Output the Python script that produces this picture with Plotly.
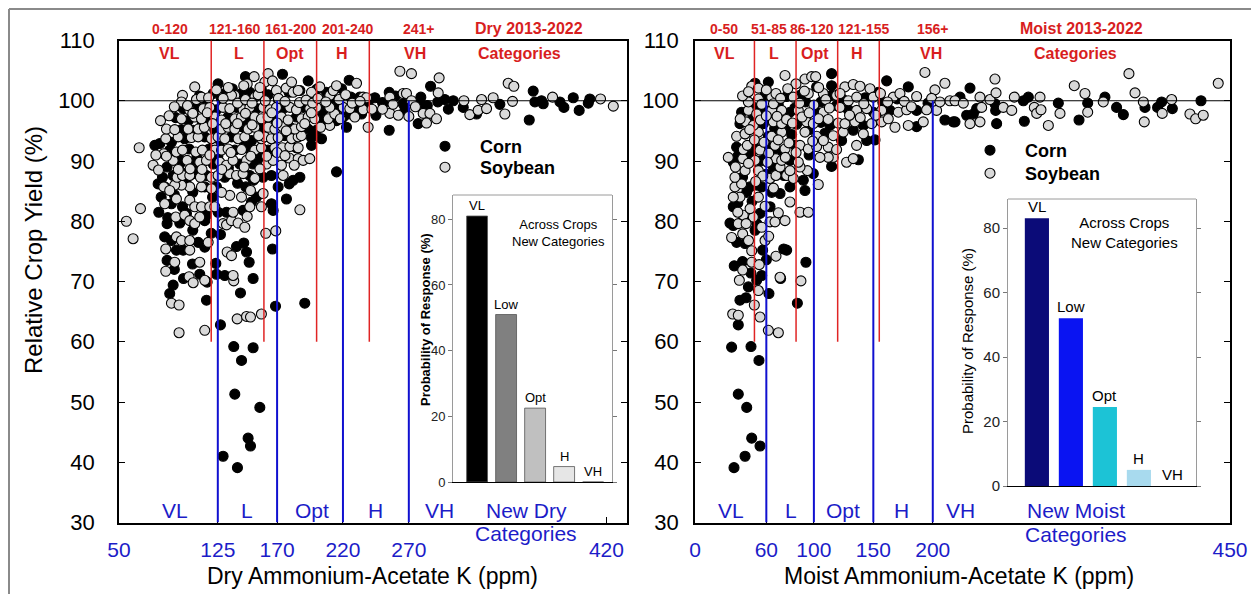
import plotly.graph_objects as go

OFF = 8                      # page margin of the browser around the figure
W, H = 1259 - OFF, 594 - OFF
FONT = "Liberation Sans, Arial, Helvetica, sans-serif"
RED = "#d81e1e"
BLUE = "#1c1cc8"

# ---------------- data ----------------
dry_corn = [
    (77.2, 92.6), (80.2, 81.5), (86.5, 73.5), (91.1, 69.4), (116.4, 66.9), (125.2, 102.8), (127.0, 62.8),
    (137.1, 59.2), (143.0, 56.9), (151.8, 59.0), (137.9, 51.3), (156.9, 49.1), (148.0, 44.0), (149.8, 42.7),
    (129.0, 41.0), (139.9, 39.1), (168.8, 65.9), (191.0, 66.4), (215.1, 88.2), (166.5, 75.4), (142.2, 68.1),
    (151.8, 70.5), (148.8, 73.2), (146.8, 74.9), (144.7, 76.4), (139.2, 75.8), (123.5, 73.0), (124.0, 71.2),
    (130.3, 71.0), (116.9, 69.9), (111.3, 71.2), (105.8, 72.9), (88.5, 68.0), (93.6, 75.2), (98.7, 75.2),
    (84.7, 77.4), (89.8, 76.8), (110.1, 76.5), (115.1, 75.7), (86.5, 79.6), (96.1, 79.7), (115.1, 80.1),
    (89.8, 82.9), (98.2, 82.4), (101.2, 81.3), (116.4, 81.0), (125.2, 81.5), (144.2, 81.8), (131.6, 81.5),
    (150.6, 83.2), (154.4, 84.0), (165.7, 82.9), (167.0, 81.8), (170.8, 85.7), (177.1, 83.7), (179.2, 86.2),
    (182.2, 86.8), (187.3, 87.3), (124.0, 85.7), (146.3, 85.7), (115.1, 85.7), (101.2, 86.2), (84.7, 85.7),
    (79.7, 86.2), (83.0, 87.3), (91.1, 87.6), (99.4, 87.9), (108.3, 87.9), (116.4, 87.6), (130.3, 87.3),
    (149.3, 87.6), (159.4, 87.3), (165.7, 87.6), (86.5, 89.0), (96.1, 89.5), (106.3, 89.5), (121.5, 89.5),
    (141.7, 89.5), (151.8, 89.5), (156.9, 89.8), (88.5, 91.8), (103.2, 92.0), (118.4, 92.0), (137.9, 91.8),
    (148.0, 92.2), (163.2, 91.8), (184.7, 92.2), (196.1, 92.6), (81.0, 92.9), (89.8, 93.1), (99.9, 93.7),
    (115.1, 94.0), (135.4, 94.0), (150.6, 93.4), (175.9, 94.2), (196.1, 93.9), (199.9, 95.1), (203.7, 93.7),
    (97.4, 95.2), (106.3, 95.1), (122.7, 95.1), (143.0, 95.7), (156.9, 95.3), (179.7, 95.6), (193.6, 95.3),
    (205.0, 96.2), (215.1, 96.7), (222.7, 95.6), (102.5, 96.7), (117.7, 96.7), (132.8, 97.3), (148.0, 96.8),
    (168.3, 97.0), (184.7, 97.3), (203.7, 97.3), (220.2, 97.3), (224.0, 97.8), (234.1, 97.8), (98.7, 98.7),
    (108.8, 98.9), (124.0, 98.5), (139.2, 98.9), (154.4, 98.7), (174.6, 98.7), (189.8, 98.9), (205.0, 98.5),
    (215.1, 98.7), (230.3, 98.9), (121.5, 101.2), (127.8, 100.3), (131.6, 101.4), (143.0, 101.2),
    (149.3, 101.4), (174.1, 104.4), (193.6, 103.3), (207.5, 101.4), (218.9, 102.0), (224.7, 103.4),
    (187.3, 101.7), (163.2, 101.0), (232.8, 100.6), (244.2, 100.5), (245.0, 97.6), (255.1, 95.1),
    (255.1, 101.4), (255.6, 99.8), (265.7, 99.5), (267.0, 98.4), (279.1, 100.6), (279.1, 99.5), (277.1, 96.2),
    (286.5, 102.4), (297.3, 100.2), (303.7, 100.0), (311.3, 98.9), (321.4, 97.8), (339.1, 99.4),
    (361.4, 96.8), (364.4, 101.6), (365.7, 99.8), (370.7, 100.0), (372.0, 99.5), (384.7, 99.8),
    (387.7, 98.9), (394.8, 100.5), (399.3, 98.4), (406.2, 99.6), (407.4, 100.3),
    (111.0, 100.8), (116.0, 99.5), (136.0, 102.0), (146.0, 104.0), (158.0, 101.9), (171.0, 100.2),
    (179.0, 101.4), (195.0, 99.9), (200.0, 101.9), (212.0, 100.3), (226.0, 100.6), (239.0, 99.5),
    (250.0, 99.7), (260.0, 100.8), (284.0, 99.2), (292.0, 99.8), (300.0, 98.6), (93.0, 97.2), (113.0, 96.0),
    (127.0, 93.3), (145.0, 92.4), (160.0, 96.4), (183.0, 95.0), (95.0, 90.8), (109.0, 90.5), (125.0, 90.8),
    (133.0, 88.9), (155.0, 91.0), (82.0, 84.0), (92.0, 84.4), (106.0, 84.8), (121.0, 84.0), (140.0, 86.3),
    (152.0, 86.8), (87.0, 80.6), (106.0, 78.5), (120.0, 78.0), (92.0, 72.0), (99.0, 70.5), (127.0, 77.8),
]

dry_soy = [
    (55.6, 80.0), (60.7, 77.1), (65.3, 92.2), (66.3, 82.1), (75.9, 89.3), (81.5, 96.7), (107.5, 102.3),
    (98.2, 100.9), (95.6, 61.5), (115.1, 61.9), (89.8, 66.4), (95.6, 66.1), (92.3, 73.2), (139.7, 63.8),
    (146.8, 64.2), (149.8, 64.1), (158.1, 64.6), (187.3, 81.9), (169.0, 78.4), (161.4, 78.0), (132.1, 74.9),
    (135.4, 74.3), (137.1, 70.1), (136.6, 71.0), (115.1, 70.2), (103.2, 70.8), (106.3, 69.8), (111.3, 73.2),
    (85.5, 71.7), (85.5, 75.4), (103.7, 75.2), (93.6, 77.4), (97.4, 76.8), (103.7, 76.8), (117.7, 76.5),
    (93.1, 80.7), (99.9, 81.0), (103.7, 80.1), (107.5, 79.6), (111.3, 80.7), (84.7, 82.9), (93.6, 83.7),
    (103.7, 83.5), (107.5, 82.4), (112.6, 82.4), (118.9, 82.4), (122.7, 82.4), (129.0, 79.6), (131.6, 79.4),
    (135.4, 80.1), (140.4, 79.7), (145.5, 79.0), (147.3, 80.8), (136.6, 81.5), (149.3, 82.4), (158.1, 82.4),
    (159.4, 84.6), (149.8, 85.1), (143.0, 84.0), (134.1, 84.3), (127.8, 84.8), (120.2, 85.4), (112.6, 85.7),
    (103.7, 85.7), (97.4, 86.0), (92.3, 86.0), (84.0, 85.7), (88.5, 85.1), (94.1, 87.3), (98.2, 87.6),
    (103.7, 87.6), (111.8, 87.3), (120.2, 87.3), (125.2, 87.6), (134.1, 87.9), (139.2, 87.6), (144.2, 87.9),
    (153.1, 87.1), (174.6, 87.6), (91.1, 90.1), (101.7, 90.1), (111.3, 89.8), (116.4, 90.1), (126.5, 89.8),
    (131.6, 89.3), (136.6, 90.1), (146.8, 90.1), (161.9, 89.5), (167.0, 90.1), (173.3, 89.3), (179.2, 90.5),
    (186.0, 90.4), (189.8, 90.1), (194.8, 90.4), (84.0, 91.2), (93.6, 91.5), (98.2, 91.8), (108.3, 91.5),
    (113.3, 91.8), (122.7, 91.8), (127.8, 91.8), (132.8, 92.0), (143.0, 91.9), (153.1, 91.8), (158.1, 92.2),
    (168.3, 92.2), (174.1, 92.2), (179.7, 92.4), (186.0, 92.2), (85.5, 93.7), (94.9, 94.0), (104.9, 93.9),
    (110.1, 94.0), (120.2, 93.7), (125.2, 94.0), (130.3, 93.7), (140.4, 93.7), (145.5, 94.0), (158.1, 93.7),
    (160.7, 94.0), (165.7, 93.7), (170.8, 93.9), (181.0, 93.7), (186.0, 94.0), (188.5, 94.2), (86.0, 95.3),
    (92.3, 95.2), (102.5, 95.3), (110.1, 95.3), (114.8, 95.6), (127.8, 95.3), (132.8, 95.6), (137.9, 95.3),
    (148.0, 95.3), (153.1, 95.6), (163.2, 95.6), (168.3, 95.3), (174.1, 95.7), (183.5, 95.3), (188.5, 95.7),
    (210.0, 95.9), (97.4, 97.0), (107.5, 97.3), (112.6, 97.0), (122.7, 97.3), (127.8, 96.8), (137.9, 97.0),
    (143.0, 97.3), (153.1, 97.3), (158.1, 97.0), (163.2, 97.3), (173.3, 97.3), (178.4, 96.8), (188.5, 97.0),
    (193.6, 97.3), (198.6, 97.0), (208.8, 97.0), (213.8, 97.8), (229.0, 97.3), (103.7, 98.4), (113.9, 98.7),
    (118.9, 98.9), (129.0, 98.9), (134.1, 98.7), (144.2, 98.5), (149.3, 98.9), (159.4, 98.9), (164.5, 98.5),
    (169.5, 98.9), (179.7, 98.9), (184.7, 98.5), (194.8, 98.7), (199.9, 98.9), (210.0, 98.9), (220.2, 98.9),
    (225.2, 98.7), (235.3, 98.5), (97.4, 99.8), (108.8, 100.2), (112.6, 100.6), (137.9, 100.9),
    (153.1, 100.6), (147.3, 102.8), (152.6, 104.0), (160.7, 103.1), (163.2, 104.5), (166.5, 103.3),
    (169.5, 101.7), (176.9, 102.1), (182.2, 101.4), (186.0, 101.7), (196.1, 101.4), (202.4, 102.3),
    (210.0, 100.9), (212.6, 101.7), (215.1, 102.5), (230.3, 102.9), (235.3, 100.6), (144.7, 102.5),
    (135.4, 100.9), (155.6, 101.0), (237.9, 100.5), (239.1, 95.6), (255.6, 100.6), (255.6, 97.9),
    (263.2, 104.9), (272.0, 104.5), (265.7, 101.2), (268.2, 101.2), (272.0, 100.0), (280.9, 97.9),
    (286.0, 97.9), (283.4, 96.3), (291.0, 97.0), (293.0, 103.8), (292.3, 101.3), (311.8, 100.0),
    (316.3, 97.7), (322.6, 98.4), (325.2, 100.2), (329.0, 98.7), (334.0, 100.5), (342.9, 97.8),
    (348.7, 99.9), (345.4, 102.9), (349.7, 102.4), (379.1, 100.6), (415.5, 100.3), (425.2, 99.1),
    (118.0, 100.5), (124.0, 101.8), (129.0, 100.4), (133.0, 102.2), (140.0, 99.6), (146.0, 100.2),
    (151.0, 99.6), (157.0, 102.2), (161.0, 100.0), (166.0, 98.0), (171.0, 100.4), (176.0, 99.9),
    (181.0, 103.1), (187.0, 99.7), (192.0, 100.1), (197.0, 99.6), (201.0, 100.4), (207.0, 99.8),
    (217.0, 100.2), (222.0, 101.0), (227.0, 99.6), (233.0, 99.9), (242.0, 98.6), (250.0, 98.6),
    (258.0, 99.4), (262.0, 97.6), (270.0, 97.4), (275.0, 99.0), (88.0, 97.5), (92.0, 99.0), (102.0, 99.2),
    (106.0, 97.9), (117.0, 98.0), (121.0, 96.2), (131.0, 96.2), (140.0, 96.2), (146.0, 97.9), (151.0, 96.0),
    (156.0, 94.2), (170.0, 96.3), (177.0, 95.0), (191.0, 96.2), (196.0, 98.0), (203.0, 95.6), (218.0, 97.0),
    (78.0, 91.0), (80.0, 88.5), (86.0, 90.8), (95.0, 88.6), (104.0, 88.7), (113.0, 88.6), (119.0, 91.0),
    (128.0, 88.6), (135.0, 91.4), (145.0, 89.0), (150.0, 90.8), (157.0, 88.7), (162.0, 90.8), (170.0, 91.4),
    (176.0, 90.9), (183.0, 89.3),
]

moist_corn = [
    (30.8, 59.1), (36.4, 51.3), (43.5, 49.1), (47.7, 44.0), (54.7, 42.7), (42.1, 41.0), (32.8, 39.1),
    (47.1, 59.2), (53.8, 56.9), (36.4, 62.8), (37.8, 66.9), (42.9, 67.3), (44.9, 69.1), (51.9, 70.2),
    (56.1, 71.0), (62.2, 68.0), (72.0, 70.5), (86.1, 66.4), (93.3, 73.2), (74.6, 75.4), (77.1, 75.2),
    (56.9, 75.2), (35.0, 76.5), (42.1, 76.3), (32.2, 79.3), (29.4, 79.7), (50.5, 78.5), (63.1, 82.4),
    (54.7, 81.3), (32.2, 82.4), (43.5, 84.8), (46.3, 85.7), (56.1, 85.7), (64.5, 84.8), (71.5, 84.6),
    (79.9, 85.7), (74.9, 87.6), (91.1, 86.8), (92.5, 85.1), (99.5, 87.9), (65.9, 89.0), (32.2, 89.8),
    (58.9, 90.4), (79.9, 90.1), (114.9, 89.1), (137.4, 90.2), (35.0, 92.3), (49.1, 92.6), (63.1, 92.3),
    (84.1, 92.6), (123.3, 93.4), (144.4, 93.4), (151.4, 93.5), (42.1, 94.5), (61.7, 94.1), (81.3, 94.4),
    (109.3, 94.6), (133.1, 95.1), (37.8, 96.2), (57.5, 96.2), (85.5, 96.1), (113.5, 95.9), (141.6, 95.9),
    (186.4, 95.7), (39.2, 98.1), (58.9, 98.4), (79.9, 98.1), (100.9, 98.4), (128.9, 98.5), (150.0, 98.1),
    (164.0, 98.4), (186.4, 98.4), (210.2, 96.8), (217.2, 96.5), (58.9, 100.9), (77.1, 100.7), (88.3, 100.9),
    (102.3, 102.3), (114.9, 102.5), (154.2, 101.4), (161.2, 103.3), (179.4, 102.3), (114.9, 104.5),
    (50.5, 102.9), (61.7, 103.1), (114.9, 100.9), (218.7, 96.5), (222.9, 100.6), (228.5, 97.6),
    (231.3, 102.1), (234.1, 97.8), (236.9, 98.7), (252.3, 99.5), (252.9, 98.4), (253.7, 96.2), (277.0, 96.6),
    (276.2, 100.0), (280.4, 100.6), (305.6, 99.6), (323.0, 96.8), (330.3, 99.6), (344.8, 100.6),
    (354.6, 98.9), (360.3, 97.7), (378.5, 98.9), (389.1, 98.9), (392.5, 99.8), (401.5, 98.7), (425.6, 100.0),
    (46.0, 99.6), (52.0, 99.4), (64.0, 97.4), (70.0, 99.4), (84.0, 98.8), (93.0, 99.8), (106.0, 99.8),
    (119.0, 99.2), (124.0, 100.3), (143.0, 100.5), (158.0, 99.7), (170.0, 100.3), (196.0, 99.6),
    (48.0, 96.9), (67.0, 95.4), (76.0, 95.5), (96.0, 95.2), (106.0, 96.4), (36.0, 90.8), (47.0, 91.0),
    (55.0, 90.0), (70.0, 91.3), (96.0, 91.0), (40.0, 87.3), (52.0, 86.0), (60.0, 87.8), (36.0, 83.0),
    (48.0, 83.3), (41.0, 80.3), (52.0, 79.6), (33.0, 72.6), (40.0, 73.3), (47.0, 71.4), (60.0, 73.6),
]

moist_soy = [
    (28.0, 90.6), (31.7, 64.6), (36.4, 64.4), (54.7, 64.1), (61.7, 61.9), (70.1, 61.5), (49.9, 66.1),
    (53.3, 68.5), (71.5, 70.7), (89.1, 70.1), (37.3, 70.2), (40.1, 71.9), (47.7, 73.2), (68.1, 74.2),
    (47.7, 75.1), (30.8, 77.3), (40.1, 77.9), (36.4, 79.6), (58.9, 76.8), (56.1, 79.0), (63.1, 79.9),
    (67.3, 79.9), (75.7, 80.1), (70.1, 81.4), (88.3, 81.5), (95.3, 81.5), (79.9, 83.2), (49.1, 80.7),
    (40.6, 81.0), (46.3, 82.1), (53.3, 84.0), (37.8, 84.0), (32.2, 84.0), (33.6, 85.7), (39.2, 86.2),
    (63.1, 87.1), (68.1, 87.6), (77.1, 87.6), (82.7, 87.1), (103.7, 86.1), (94.5, 88.4), (88.3, 89.0),
    (79.9, 88.4), (71.5, 89.0), (53.3, 88.4), (42.1, 88.4), (33.6, 87.3), (40.1, 90.4), (50.5, 90.1),
    (68.1, 90.4), (72.9, 90.1), (86.9, 89.8), (127.5, 89.8), (133.1, 90.4), (116.3, 90.6), (112.1, 90.6),
    (105.1, 90.6), (40.6, 91.9), (54.7, 91.8), (67.3, 92.6), (75.7, 92.0), (88.3, 92.6), (95.3, 92.0),
    (102.3, 92.4), (112.1, 92.3), (119.1, 91.9), (135.9, 92.6), (35.0, 94.1), (42.1, 94.5), (53.3, 94.8),
    (64.5, 94.1), (72.9, 94.8), (92.5, 94.8), (102.3, 94.1), (116.3, 94.2), (124.7, 94.8), (141.6, 94.5),
    (42.9, 96.5), (49.1, 95.9), (65.9, 96.5), (72.9, 96.2), (93.9, 96.5), (99.5, 96.2), (120.5, 96.3),
    (126.1, 96.2), (134.5, 96.5), (148.6, 96.2), (157.0, 96.5), (162.6, 97.0), (168.2, 95.6), (179.4, 95.9),
    (192.0, 96.5), (44.9, 98.4), (51.9, 97.8), (64.5, 98.4), (72.9, 98.4), (86.9, 98.4), (107.9, 98.1),
    (121.9, 98.9), (135.9, 98.4), (144.4, 98.7), (157.0, 98.4), (171.0, 98.1), (178.0, 98.5), (194.8, 98.5),
    (203.2, 98.4), (44.9, 99.8), (53.3, 100.3), (64.5, 100.6), (68.1, 101.2), (82.7, 100.6), (95.3, 101.2),
    (107.9, 101.2), (119.1, 100.9), (126.1, 102.3), (133.1, 102.7), (138.8, 102.4), (147.2, 102.0),
    (166.8, 100.6), (172.4, 101.2), (186.4, 100.7), (193.4, 104.7), (201.8, 101.8), (210.2, 102.9),
    (214.4, 100.0), (47.7, 102.4), (53.3, 102.1), (75.7, 104.2), (84.9, 102.8), (92.5, 103.6), (98.1, 104.0),
    (101.5, 104.0), (218.7, 100.0), (225.7, 99.6), (231.3, 96.2), (239.7, 100.6), (239.7, 96.5),
    (241.1, 98.9), (248.1, 100.2), (252.3, 103.6), (253.2, 101.3), (259.3, 98.9), (266.4, 98.4),
    (268.6, 100.6), (285.4, 98.9), (287.4, 97.9), (290.2, 100.6), (291.0, 98.5), (297.2, 95.9),
    (307.0, 97.9), (319.0, 102.5), (328.0, 101.2), (330.3, 98.1), (343.4, 99.8), (365.0, 104.5),
    (370.1, 101.3), (377.1, 99.8), (377.9, 96.5), (393.0, 97.9), (400.9, 100.2), (416.3, 97.8),
    (421.1, 97.0), (427.5, 97.6), (440.1, 102.9),
    (40.0, 100.8), (45.0, 101.5), (56.0, 99.4), (60.0, 101.8), (66.0, 99.5), (72.0, 100.4), (78.0, 102.0),
    (88.0, 99.6), (92.0, 101.6), (100.0, 99.3), (104.0, 102.2), (110.0, 100.2), (113.0, 98.8),
    (122.0, 101.2), (129.0, 100.0), (136.0, 100.6), (142.0, 99.5), (150.0, 100.6), (156.0, 101.2),
    (162.0, 99.8), (176.0, 99.9), (182.0, 99.0), (199.0, 100.4), (206.0, 99.8), (38.0, 97.0), (46.0, 95.2),
    (55.0, 96.8), (60.0, 97.5), (69.0, 97.4), (77.0, 96.9), (82.0, 96.3), (90.0, 97.3), (96.0, 98.0),
    (104.0, 97.0), (112.0, 96.9), (130.0, 97.6), (139.0, 97.2), (152.0, 97.6), (44.0, 92.6), (50.0, 93.5),
    (58.0, 93.1), (62.0, 91.3), (70.0, 93.5), (79.0, 93.0), (85.0, 91.4), (99.0, 93.3), (108.0, 93.4),
    (34.0, 89.0), (45.0, 89.6), (57.0, 87.5), (61.0, 89.8), (76.0, 90.6), (36.0, 81.5), (43.0, 79.6),
    (51.0, 86.6), (59.0, 82.5), (66.0, 85.5), (45.0, 76.8), (54.0, 72.8), (62.0, 77.5),
]

prob_categories = ["VL", "Low", "Opt", "H", "VH"]
dry_prob = [81.0, 51.0, 22.5, 4.7, 0.0]
moist_prob = [83.0, 52.0, 24.5, 5.0, 0.0]

dry_old_bounds = [120, 160, 200, 240]
dry_old_ranges = ["0-120", "121-160", "161-200", "201-240", "241+"]
dry_new_bounds = [125, 170, 220, 270]
dry_ticks = [50, 125, 170, 220, 270, 420]

moist_old_bounds = [50, 85, 120, 155]
moist_old_ranges = ["0-50", "51-85", "86-120", "121-155", "156+"]
moist_new_bounds = [60, 100, 150, 200]
moist_ticks = [0, 60, 100, 150, 200, 450]

cat_short = ["VL", "L", "Opt", "H", "VH"]
yield_ticks = [30, 40, 50, 60, 70, 80, 90, 100, 110]


# ---------------- layout helpers (reference pixel -> paper fraction) ----------------
def px(p):
    return (p - OFF) / W


def py(p):
    return 1 - (p - OFF) / H


Y_DOM = [py(522.5), py(40.5)]

fig = go.Figure()


def scatter(pairs, name, fill, xa, ya, legend):
    fig.add_trace(go.Scatter(
        x=[p[0] for p in pairs], y=[p[1] for p in pairs], mode="markers", name=name,
        xaxis=xa, yaxis=ya, legend=legend, showlegend=True,
        marker=dict(size=10, color=fill, line=dict(color="black", width=1.1)),
    ))


scatter(dry_corn, "Corn", "black", "x", "y", "legend")
scatter(dry_soy, "Soybean", "#d9d9d9", "x", "y", "legend2")
scatter(moist_corn, "Corn", "black", "x2", "y2", "legend3")
scatter(moist_soy, "Soybean", "#d9d9d9", "x2", "y2", "legend4")

fig.add_trace(go.Bar(
    x=prob_categories, y=dry_prob, xaxis="x3", yaxis="y3", showlegend=False, width=0.72,
    marker=dict(color=["#000000", "#808080", "#c0c0c0", "#e6e6e6", "#ffffff"],
                line=dict(color="#555555", width=0.8)),
))
fig.add_trace(go.Bar(
    x=prob_categories, y=moist_prob, xaxis="x4", yaxis="y4", showlegend=False, width=0.71,
    marker=dict(color=["#0b0b78", "#0a14f2", "#1cc3d6", "#a8daee", "#ffffff"],
                line=dict(width=0)),
))

shapes = []
annotations = []

# outer frame of the picture
shapes.append(dict(type="line", xref="paper", yref="paper", x0=px(9), x1=1, y0=py(9), y1=py(9),
                   line=dict(color="#8a8a8a", width=2), layer="above"))
shapes.append(dict(type="line", xref="paper", yref="paper", x0=px(9), x1=px(9), y0=0, y1=py(9),
                   line=dict(color="#8a8a8a", width=2), layer="above"))


def panel_decor(xa, ya, old_bounds, new_bounds):
    shapes.append(dict(type="line", xref=xa + " domain", yref=ya, x0=0, x1=1, y0=100, y1=100,
                       line=dict(color="black", width=1.2), layer="above"))
    for b in old_bounds:
        shapes.append(dict(type="line", xref=xa, yref=ya, x0=b, x1=b, y0=60, y1=110,
                           line=dict(color="#e02424", width=1.5), layer="above"))
    for b in new_bounds:
        shapes.append(dict(type="line", xref=xa, yref=ya, x0=b, x1=b, y0=30, y1=100,
                           line=dict(color="#1010d0", width=2), layer="above"))


panel_decor("x", "y", dry_old_bounds, dry_new_bounds)
panel_decor("x2", "y2", moist_old_bounds, moist_new_bounds)


def ann(text, x, y, xref, yref, size, color="black", bold=False, **kw):
    d = dict(text=text, x=x, y=y, xref=xref, yref=yref, showarrow=False,
             xanchor="center", yanchor="middle",
             font=dict(family=FONT, size=size, color=color, weight="bold" if bold else "normal"))
    d.update(kw)
    annotations.append(d)


# top red labels (row above the frame uses paper y so it is not hidden)
dry_range_x = [88.5, 137.9, 180.4, 223.7, 277.6]
dry_cat_x = [88.5, 141.0, 179.7, 219.1, 274.6]
for t, xv in zip(dry_old_ranges, dry_range_x):
    ann(t, xv, py(29), "x", "paper", 14, RED, True)
ann("Dry 2013-2022", 361.1, py(29), "x", "paper", 16, RED, True)
for t, xv in zip(cat_short, dry_cat_x):
    ann(t, xv, 107.8, "x", "y", 16, RED, True)
ann("Categories", 354.3, 107.8, "x", "y", 16, RED, True)

moist_range_x = [24.4, 62.2, 98.4, 142.1, 200.2]
moist_cat_x = [24.4, 66.4, 100.9, 136.2, 198.5]
for t, xv in zip(moist_old_ranges, moist_range_x):
    ann(t, xv, py(29), "x2", "paper", 14, RED, True)
ann("Moist 2013-2022", 325.5, py(29), "x2", "paper", 16, RED, True)
for t, xv in zip(cat_short, moist_cat_x):
    ann(t, xv, 107.8, "x2", "y2", 16, RED, True)
ann("Categories", 320.4, 107.8, "x2", "y2", 16, RED, True)

# bottom blue labels
dry_new_x = [92.7, 147.0, 196.4, 245.0, 293.6]
for t, xv in zip(cat_short, dry_new_x):
    ann(t, xv, 32.0, "x", "y", 21, BLUE)
ann("New Dry", 359.2, 32.0, "x", "y", 21, BLUE)
ann("Categories", 359.2, py(533), "x", "paper", 21, BLUE)

moist_new_x = [30.1, 80.9, 124.7, 173.5, 223.4]
for t, xv in zip(cat_short, moist_new_x):
    ann(t, xv, 32.0, "x2", "y2", 21, BLUE)
ann("New Moist", 320.6, 32.0, "x2", "y2", 21, BLUE)
ann("Categories", 320.6, py(534), "x2", "paper", 21, BLUE)

# axis titles
ann("Relative Crop Yield (%)", px(34), py(250), "paper", "paper", 24, textangle=-90)
ann("Dry Ammonium-Acetate K (ppm)", px(372), py(576), "paper", "paper", 23)
ann("Moist Ammonium-Acetate K (ppm)", px(959), py(576), "paper", "paper", 23)

# inset texts
for cat, v in zip(prob_categories, dry_prob):
    ann(cat, cat, v, "x3", "y3", 13, yanchor="bottom", yshift=1)
ann("Across Crops<br>New Categories", 2.79, 75.9, "x3", "y3", 13)
ann("<b>Probability of Response (%)</b>", px(425), py(320), "paper", "paper", 13, textangle=-90)

for cat, v in zip(prob_categories, moist_prob):
    ann(cat, cat, v, "x4", "y4", 15, yanchor="bottom", yshift=1)
ann("Across Crops<br>New Categories", 2.59, 78.5, "x4", "y4", 15)
ann("Probability of Response (%)", px(967), py(341), "paper", "paper", 15, textangle=-90)

# inset top borders
for xa, ya in (("x3", "y3"), ("x4", "y4")):
    shapes.append(dict(type="line", xref=xa + " domain", yref=ya + " domain", x0=0, x1=1, y0=1, y1=1,
                       line=dict(color="#9a9a9a", width=1), layer="above"))

main_x_common = dict(showline=True, linecolor="black", linewidth=1.5, mirror=True, ticks="inside",
                     ticklen=6, tickcolor="black", showgrid=False, zeroline=False, automargin=False,
                     tickfont=dict(family=FONT, size=21, color=BLUE), ticklabelstandoff=8)
main_y_common = dict(range=[30, 110], domain=Y_DOM, showline=True, linecolor="black", linewidth=1.5,
                     mirror="allticks", ticks="inside", ticklen=6, tickcolor="black", automargin=False,
                     tickvals=yield_ticks, showgrid=False, zeroline=False,
                     tickfont=dict(family=FONT, size=22, color="black"))

inset_y_common = dict(showline=True, linecolor="#9a9a9a", linewidth=1, mirror="ticks", ticks="outside",
                      ticklen=4, tickcolor="#777777", tickvals=[0, 20, 40, 60, 80], showgrid=False,
                      zeroline=False, automargin=False)


def legend_at(left_px, top_px):
    return dict(x=px(left_px), y=py(top_px), xanchor="left", yanchor="top", bgcolor="rgba(0,0,0,0)",
                itemwidth=60, font=dict(family=FONT, size=18, color="black", weight="bold"))


fig.update_layout(
    width=W, height=H, margin=dict(l=0, r=0, t=0, b=0, pad=0, autoexpand=False),
    paper_bgcolor="white", plot_bgcolor="white",
    font=dict(family=FONT, color="black"),
    xaxis=dict(domain=[px(119), px(627)], range=[50, 435.6], tickvals=dry_ticks, anchor="y",
               **main_x_common),
    yaxis=dict(anchor="x", ticklabelstandoff=18, **main_y_common),
    xaxis2=dict(domain=[px(695), px(1230)], range=[0, 450], tickvals=moist_ticks, anchor="y2",
                **main_x_common),
    yaxis2=dict(anchor="x2", ticklabelstandoff=10, **main_y_common),
    xaxis3=dict(domain=[px(453), px(612)], range=[-0.83, 4.65], anchor="y3", showline=True,
                linecolor="black", linewidth=1, ticks="", showticklabels=False, showgrid=False,
                zeroline=False, type="category", automargin=False),
    yaxis3=dict(domain=[py(482), py(195)], range=[0, 87.4], anchor="x3",
                tickfont=dict(family=FONT, size=13, color="#222222"), **inset_y_common),
    xaxis4=dict(domain=[px(1008), px(1196)], range=[-0.85, 4.68], anchor="y4", showline=True,
                linecolor="black", linewidth=1, ticks="", showticklabels=False, showgrid=False,
                zeroline=False, type="category", automargin=False),
    yaxis4=dict(domain=[py(486), py(199)], range=[0, 89], anchor="x4",
                tickfont=dict(family=FONT, size=15, color="#222222"), **inset_y_common),
    legend=legend_at(410, 128),
    legend2=legend_at(410, 149),
    legend3=legend_at(955, 132),
    legend4=legend_at(955, 155),
    shapes=shapes,
    annotations=annotations,
    bargap=0.2,
)

fig.write_html("out.html")
